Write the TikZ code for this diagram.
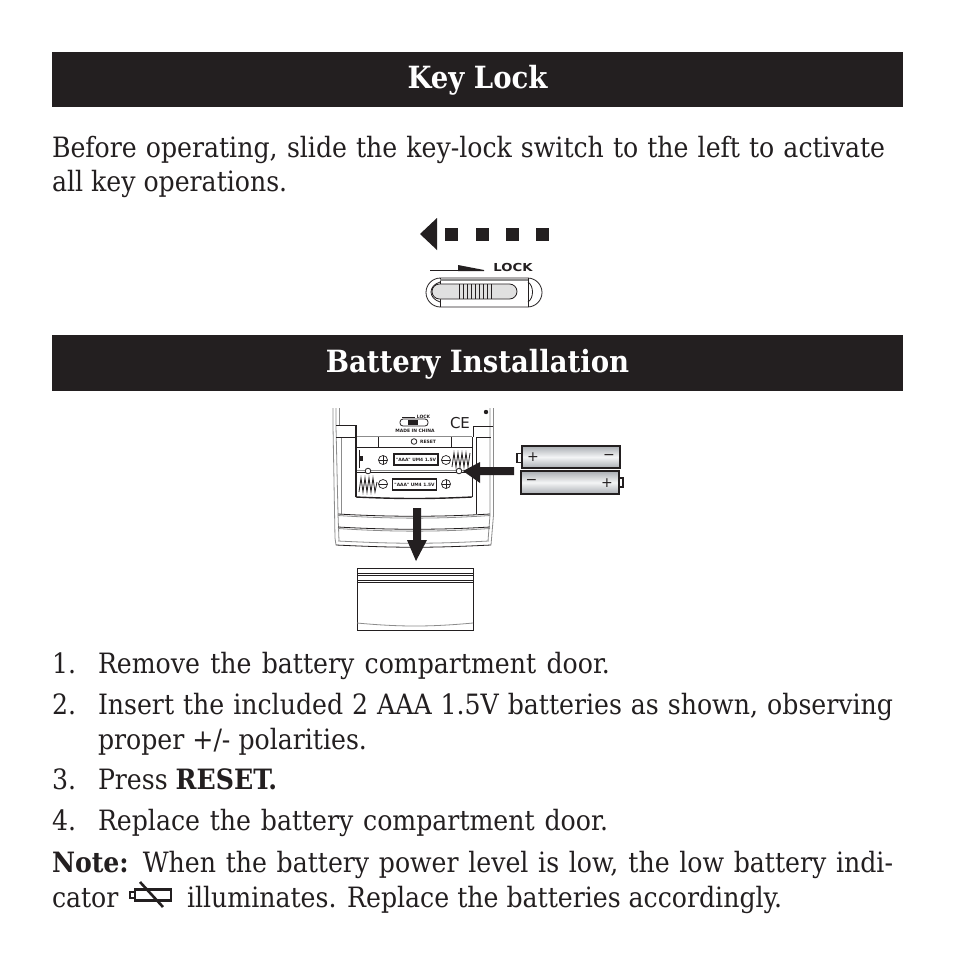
\documentclass[tikz,border=0pt]{standalone}
\usepackage{fontspec}
\setmainfont{DejaVu Serif Condensed}
\newfontfamily\bodyfont{DejaVu Serif Condensed}
\newfontfamily\titlefont{DejaVu Serif Condensed}
\newfontfamily\labelfont{DejaVu Sans}
\definecolor{ink}{HTML}{231F20}
\definecolor{batdark}{HTML}{A9ADB2}
\definecolor{batlight}{HTML}{F4F5F6}
\tikzset{
  bar/.style={fill=ink,draw=none},
  title/.style={text=white,font=\titlefont\bfseries\fontsize{30.6}{30.6}\selectfont,anchor=base},
  body/.style={text=ink,anchor=base west,inner sep=0pt,outer sep=0pt,font=\bodyfont\fontsize{28}{28}\selectfont},
  line/.style={draw=ink,line width=0.8pt},
  grayline/.style={draw=black!45,line width=0.8pt},
  solid arrow/.style={fill=ink,draw=none},
  tiny/.style={text=ink,inner sep=0pt,font=\labelfont\bfseries\fontsize{4.5}{4.5}\selectfont},
  battery/.style={draw=ink,line width=1.2pt,top color=batdark,bottom color=batdark,middle color=batlight},
  pole/.style={text=ink,inner sep=0pt,font=\labelfont\fontsize{14}{14}\selectfont},
  tag/.style={draw=ink,line width=1.1pt,fill=white,inner sep=1pt,text=ink,font=\labelfont\bfseries\fontsize{4.4}{4.4}\selectfont},
  circ/.style={circle,draw=ink,line width=0.7pt,minimum size=9pt,inner sep=0pt,
     path picture={\draw[ink,line width=0.6pt] (path picture bounding box.north) -- (path picture bounding box.south) (path picture bounding box.west) -- (path picture bounding box.east);}},
  minuscirc/.style={circle,draw=ink,line width=0.7pt,minimum size=9pt,inner sep=0pt,
     path picture={\draw[ink,line width=0.6pt] (path picture bounding box.west) -- (path picture bounding box.east);}},
}
\begin{document}
\begin{tikzpicture}[x=1pt,y=-1pt]
\useasboundingbox (0,0) rectangle (954,954);
\fill[white] (0,0) rectangle (954,954);
% title bars
\fill[bar] (52,52) rectangle (903,107);
\fill[bar] (52,335) rectangle (903,391);
\node[title] (t1) at (477.5,88.5) {Key Lock};
\node[title] (t2) at (477.5,372.5) {Battery Installation};
% top text
\node[body] (a1) at (52,157.5) {\makebox[833pt][s]{Before operating, slide the key-lock switch to the left to activate}};
\node[body] (a2) at (52,191.5) {all key operations.};
% direction arrow
\fill[solid arrow] (420,234) -- (437,218) -- (437,250) -- cycle;
\foreach \x in {445,476,506,536} \fill[ink] (\x,228) rectangle ++(13,13);
% lock label
\draw[line] (430,270.5) -- (460,270.5);
\fill[ink] (458,265) -- (484,270) -- (484,271) -- (458,271) -- cycle;
\node[text=ink,inner sep=0pt,font=\labelfont\bfseries\fontsize{11}{11}\selectfont,xscale=1.2] (lk) at (513,267) {LOCK};
% slide switch
\draw[line,rounded corners=14.5pt] (426,278) rectangle (542,307);
\draw[line] (440,278) -- (440,307) (528,278) -- (528,307);
\draw[line width=1.4pt,black!45] (440,280) -- (528,280);
\draw[line,fill=black!12,rounded corners=7.5pt] (432,284) rectangle (517,299);
\foreach \x in {459,463,467,471,475,479,483,487,491} \draw[ink,line width=0.6pt] (\x,284) -- (\x,299);
\draw[line] (528,282) .. controls (534,286) and (534,298) .. (528,302);
\draw[line] (440,282) .. controls (428,286) and (428,298) .. (440,302);
% device body: left side
\draw[grayline] (333,408) -- (333,426) -- (335,538) -- (336,545);
\draw[grayline] (336,408) -- (336,426) -- (338,514) -- (339,541);
\draw[grayline] (339,408) -- (339,425);
\draw[line] (336,425) -- (355,425);
\draw[line] (336,437) -- (355,437);
\draw[line width=1.6pt,ink] (356,425) -- (356,497);
% device body: right side
\draw[grayline] (490,408) -- (490,515) -- (488,541);
\draw[grayline] (493.5,408) -- (493.5,515) -- (491,545);
\draw[line] (473,426) -- (493,426);
\draw[line] (476,437) -- (491,437);
\draw[line] (473,426) -- (473,437);
\draw[line] (476,437) -- (476,514);
\draw[grayline] (341,438) -- (341,514);
% bottom edge
\draw[line] (336,545) .. controls (400,548) and (430,548) .. (491,545);
\draw[grayline] (338,541) .. controls (400,544) and (430,544) .. (489,541);
% compartment
\draw[grayline] (357,436.5) -- (472,436.5);
\draw[line] (472,437) -- (472,497);
\draw[line] (357,447) -- (472,447);
\draw[line] (378,437) -- (378,447) (451,437) -- (451,447);
\draw[line width=1.4pt,ink] (356,497) .. controls (400,499) and (430,499) .. (472,497);
\draw[grayline] (357,470) -- (472,470);
\draw[line] (357,472) -- (472,472);
\draw[ink,line width=1pt] (359,450) -- (359,468);
\fill[ink] (359,456) rectangle (363,461);
\draw[line,fill=white] (368,471) circle[radius=2.8];
\draw[line,fill=white] (459,471) circle[radius=2.8];
% small markings
\draw[line width=0.6pt,ink] (402,417) -- (415,417);
\node[tiny] (lk2) at (423.5,416.5) {LOCK};
\draw[line,rounded corners=3pt] (400,419) rectangle (428,426);
\fill[ink] (408,420) rectangle (418,425);
\node[tiny] (made) at (415,430.5) {MADE IN CHINA};
\node[text=ink,inner sep=0pt,font=\labelfont\fontsize{15}{15}\selectfont] (ce) at (460,423) {CE};
\fill[ink] (486,412) circle[radius=2.2];
\draw[line] (414,441.5) circle[radius=2.8];
\node[tiny] (rs) at (428,441.5) {RESET};
% battery labels in compartment
\node[circ] (p1) at (383,460) {};
\node[tag,minimum width=44pt,minimum height=11pt] (aaa1) at (416,459.5) {"AAA" UM4 1.5V};
\node[minuscirc] (m1) at (446,460) {};
\node[minuscirc] (m2) at (383,484) {};
\node[tag,minimum width=44pt,minimum height=11pt] (aaa2) at (414.5,484.5) {"AAA" UM4 1.5V};
\node[circ] (p2) at (446,484) {};
% springs
\draw[ink,line width=0.8pt] (452,467) -- (454,453) -- (456,467) -- (458,453) -- (460,467) -- (462,453) -- (464,467) -- (466,453) -- (468,467) -- (470,453);
\draw[ink,line width=0.8pt] (359,492) -- (361,478) -- (363,492) -- (365,478) -- (367,492) -- (369,478) -- (371,492) -- (373,478) -- (375,492) -- (377,482);
% lower ribs
\foreach \y/\b in {514/513,527/526}{
  \draw[line] (338,\y) .. controls (390,\b+4) and (440,\b+4) .. (490,\y);
  \draw[grayline] (338,\y+1.5) .. controls (390,\b+6) and (440,\b+6) .. (490,\y+1.5);
}
% batteries
\draw[line,line width=1.2pt,fill=white] (517,453.5) rectangle (522,462.5);
\draw[battery] (522,446) rectangle (620,468);
\draw[line,line width=1.2pt,fill=white] (619,478) rectangle (623,487);
\draw[battery] (521,471) rectangle (619,494);
\node[pole] (bp1) at (533,457) {+};
\node[pole] (bm1) at (609,457) {−};
\node[pole] (bm2) at (531.5,482) {−};
\node[pole] (bp2) at (607,483) {+};
% black arrows
\fill[solid arrow] (463,471) -- (480,462) -- (480,467) -- (514,467) -- (514,475) -- (480,475) -- (480,483) -- cycle;
\fill[solid arrow] (413,508) -- (421,508) -- (421,540) -- (427,540) -- (416,561) -- (407,540) -- (413,540) -- cycle;
% door
\draw[line] (357,568) rectangle (473,630);
\draw[line] (357,573) -- (473,573) (357,575.5) -- (473,575.5);
\draw[line] (357,580) -- (473,580) (357,582) -- (473,582);
\draw[grayline] (357,623) .. controls (400,627) and (430,627) .. (473,623);
% list text
\node[body] (l1n) at (52,673.5) {1.};
\node[body] (l1) at (98,673.5) {\makebox[512pt][s]{Remove the battery compartment door.}};
\node[body] (l2n) at (52,714.5) {2.};
\node[body] (l2) at (98,714.5) {\makebox[795pt][s]{Insert the included 2 AAA 1.5V batteries as shown, observing}};
\node[body] (l2b) at (98,749.5) {proper +/- polarities.};
\node[body] (l3n) at (52,789.5) {3.};
\node[body] (l3) at (98,789.5) {Press \textbf{RESET.}};
\node[body] (l4n) at (52,830.5) {4.};
\node[body] (l4) at (98,830.5) {\makebox[510pt][s]{Replace the battery compartment door.}};
\node[body] (n1) at (52,872.5) {\makebox[841pt][s]{\textbf{Note:} When the battery power level is low, the low battery indi-}};
\node[body] (n2) at (52,907.5) {cator};
\node[body] (n3) at (187,907.5) {illuminates. Replace the batteries accordingly.};
% low battery icon
\draw[ink,line width=2.6pt] (135,889.5) rectangle (171,900.5);
\draw[ink,line width=2.6pt] (130,892) rectangle (135,898);
\draw[ink,line width=2.6pt] (140,882) -- (163,907);
\end{tikzpicture}
\end{document}
